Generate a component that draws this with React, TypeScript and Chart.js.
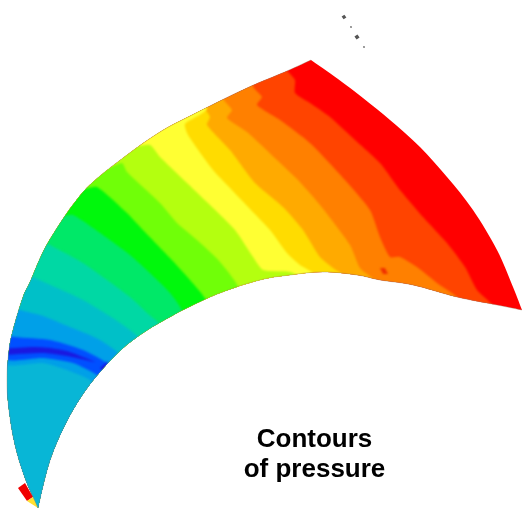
import React, { useEffect, useRef } from "react";
import { Chart, registerables } from "chart.js";

type P = [number, number];

// Blade outline
const outerEdge: P[] = [[38,508],[25,478],[15,445],[9,410],[7,380],[9,350],[13,330],[23,297],[30,282],[43,252],[57,228],[75,202],[93,182],[127,155],[160,132],[190,116],[247,88],[287,71],[311,60]];
const rightEdge: P[] = [[311,60],[338,79],[363,98],[390,120],[420,147],[447,177],[473,210],[497,250],[513,287],[522,310]];
const innerEdge: P[] = [[522,310],[497,305],[457,297],[413,285],[380,280],[357,275],[323,272],[290,275],[260,280],[220,293],[187,308],[170,317],[146,331],[122,349],[100,372],[83,394],[67,421],[53,452],[45,478],[38,508]];

// Contour boundaries, upper end first
const contourA: P[] = [[286,68],[295,80],[295,93],[310,103],[330,117],[355,140],[380,163],[400,190],[423,217],[447,243],[465,267],[477,290],[497,312]];
const contourB: P[] = [[253,86],[262,97],[257,105],[280,120],[310,143],[345,180],[370,210],[380,237],[390,257],[400,257],[417,267],[437,283],[460,302]];
const contourC: P[] = [[223,98],[232,110],[227,118],[247,132],[277,160],[298,180],[320,205],[350,245],[360,268],[378,285]];
const contourD: P[] = [[205,108],[210,117],[207,125],[230,150],[255,183],[283,207],[303,230],[320,257],[333,268],[350,282]];
const contourE: P[] = [[207,108],[185,124],[188,135],[213,170],[230,188],[250,209],[270,230],[287,253],[300,265],[318,278]];
const contourF: P[] = [[133,145],[150,145],[160,157],[188,184],[212,207],[235,230],[253,257],[263,270],[290,272],[305,282]];
const contourG: P[] = [[107,167],[122,163],[127,172],[160,203],[177,223],[197,240],[220,262],[240,292]];
const contourH: P[] = [[82,188],[97,187],[127,213],[143,230],[170,258],[190,280],[208,305]];
const contourI: P[] = [[60,215],[73,215],[93,228],[130,255],[170,293],[185,318]];
const contourJ: P[] = [[40,240],[50,245],[83,263],[130,297],[147,313],[162,328]];
const contourK: P[] = [[30,275],[35,278],[83,300],[123,325],[147,348]];
const contourL: P[] = [[15,308],[20,310],[43,316],[65,325],[100,340],[125,362]];
const contourM: P[] = [[8,335],[15,337],[50,340],[83,350],[107,363],[120,375]];
const contourN: P[] = [[2,357],[43,358],[73,363],[97,375],[104,385]];
const contourO: P[] = [[2,362],[43,363],[67,370],[90,380],[98,392]];

const bandColors = ["#ff4400","#ff8000","#ffaa00","#ffdc00","#ffff33","#b4ff0f","#70ff08","#00f80c","#00e868","#00d8a4","#00c0c8","#00a0e8","#0050ff","#00a0e8","#08b6d6"];
const bandLines = [contourA,contourB,contourC,contourD,contourE,contourF,contourG,contourH,contourI,contourJ,contourK,contourL,contourM,contourN,contourO];

// Small shapes
const darkCrescent: P[] = [[2,349],[33,347],[50,348],[67,351],[83,357],[95,362],[67,356],[43,353],[2,355]];
const darkTip: P[] = [[100,368],[108,361],[104,372]];
const hotSpot: P[] = [[380,268],[385,268],[388,274],[383,274]];
const cornerRed: P[] = [[18,488],[25,483],[33,497],[27,501]];
const cornerYellow: P[] = [[27,501],[33,497],[38,508]];
const tickMarks: P[] = [[344,17],[351,27],[357,37],[364,47]];
const tickSizes = [2.4, 1.1, 2.6, 1.1];
const caption = ["Contours", "of pressure"];

const toXY = (pts: P[]) => pts.map(([x, y]) => ({ x, y }));
const leftOf = (line: P[]): P[] => {
  const a = line[0];
  const b = line[line.length - 1];
  return [[a[0], -100], ...line, [b[0], 700], [-100, 700], [-100, -100]];
};

const tracePath = (ctx: CanvasRenderingContext2D, pts: P[], fx: (v: number) => number, fy: (v: number) => number, first: boolean) => {
  const q = pts.map(([x, y]) => [fx(x), fy(y)]);
  if (first) ctx.moveTo(q[0][0], q[0][1]);
  else ctx.lineTo(q[0][0], q[0][1]);
  for (let i = 0; i < q.length - 1; i++) {
    const p0 = q[Math.max(i - 1, 0)], p1 = q[i], p2 = q[i + 1], p3 = q[Math.min(i + 2, q.length - 1)];
    ctx.bezierCurveTo(p1[0] + (p2[0] - p0[0]) / 6, p1[1] + (p2[1] - p0[1]) / 6, p2[0] - (p3[0] - p1[0]) / 6, p2[1] - (p3[1] - p1[1]) / 6, p2[0], p2[1]);
  }
};

const bladeClip = {
  id: "bladeClip",
  beforeDatasetDraw(chart: any, args: any) {
    if (!chart.data.datasets[args.index].inBlade) return;
    const { ctx, scales } = chart;
    const fx = (v: number) => scales.x.getPixelForValue(v);
    const fy = (v: number) => scales.y.getPixelForValue(v);
    ctx.save();
    ctx.beginPath();
    tracePath(ctx, outerEdge, fx, fy, true);
    tracePath(ctx, rightEdge, fx, fy, false);
    tracePath(ctx, innerEdge, fx, fy, false);
    ctx.closePath();
    ctx.clip();
    ctx.filter = "blur(0.8px)";
  },
  afterDatasetDraw(chart: any, args: any) {
    if (chart.data.datasets[args.index].inBlade) chart.ctx.restore();
  },
};

const captionPlugin = {
  id: "captionText",
  afterDraw(chart: any) {
    const { ctx, scales } = chart;
    ctx.save();
    ctx.font = "bold 26px 'Liberation Sans'";
    ctx.fillStyle = "#000";
    ctx.textAlign = "center";
    ctx.textBaseline = "alphabetic";
    ctx.fillText(caption[0], scales.x.getPixelForValue(314.5), scales.y.getPixelForValue(447));
    ctx.fillText(caption[1], scales.x.getPixelForValue(314.5), scales.y.getPixelForValue(477));
    ctx.restore();
  },
};

Chart.register(bladeClip, ...registerables);

const poly = (pts: P[], color: string, inBlade = true, tension = 0.2) => ({
  data: toXY(pts),
  showLine: true,
  fill: "shape",
  backgroundColor: color,
  borderColor: color,
  borderWidth: 0,
  pointRadius: 0,
  tension,
  clip: false,
  inBlade,
});

const edge = (pts: P[]) => ({
  data: toXY(pts),
  showLine: true,
  fill: false,
  borderColor: "rgba(140,130,100,0.5)",
  borderWidth: 0.7,
  pointRadius: 0,
  tension: 0.4,
  clip: false,
});

export default function App() {
  const ref = useRef<HTMLCanvasElement>(null);
  useEffect(() => {
    const layers: any[] = [
      poly([[-100,-100],[700,-100],[700,700],[-100,700]], "#ff0000", true, 0),
      ...bandLines.map((l, i) => poly(leftOf(l), bandColors[i])),
      poly(darkCrescent, "#1a18e0"),
      poly(darkTip, "#1a18e0", true, 0),
      poly(hotSpot, "#f03000", true, 0),
      poly(cornerRed, "#f00000", false, 0),
      poly(cornerYellow, "#ffe030", false, 0),
      edge(outerEdge),
      edge(innerEdge),
      {
        data: toXY(tickMarks),
        showLine: false,
        pointStyle: "rect",
        pointRadius: tickSizes,
        rotation: 55,
        backgroundColor: "#555",
        borderWidth: 0,
      },
    ];
    layers.forEach((d, i) => (d.order = layers.length - i));
    const chart = new Chart(ref.current!, {
      type: "scatter",
      data: { datasets: layers },
      plugins: [captionPlugin],
      options: {
        animation: false,
        responsive: false,
        layout: { padding: 0, autoPadding: false },
        plugins: { legend: { display: false }, tooltip: { enabled: false } },
        scales: {
          x: { type: "linear", min: 0, max: 522, display: false },
          y: { type: "linear", min: 0, max: 510, reverse: true, display: false },
        },
      },
    } as any);
    return () => chart.destroy();
  }, []);
  return <canvas ref={ref} width={522} height={510} style={{ position: "absolute", left: 0, top: 0, background: "#fff" }} />;
}
